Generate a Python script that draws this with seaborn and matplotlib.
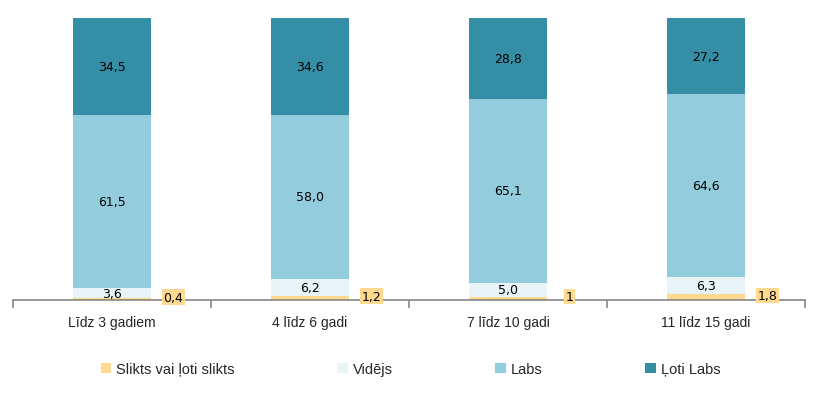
import matplotlib
matplotlib.use("Agg")
import matplotlib.pyplot as plt
import numpy as np
import seaborn as sns

categories = ["Līdz 3 gadiem", "4 līdz 6 gadi", "7 līdz 10 gadi", "11 līdz 15 gadi"]
series_names = ["Slikts vai ļoti slikts", "Vidējs", "Labs", "Ļoti Labs"]
slikts = [0.4, 1.2, 1.0, 1.8]
videjs = [3.6, 6.2, 5.0, 6.3]
labs = [61.5, 58.0, 65.1, 64.6]
loti_labs = [34.5, 34.6, 28.8, 27.2]
slikts_labels = ["0,4", "1,2", "1", "1,8"]

colors = ["#FFD98F", "#E8F4F8", "#93CDDD", "#348FA6"]

sns.set_style("white")
plt.rcParams["font.family"] = ["DejaVu Sans"]

fig = plt.figure(figsize=(8.21, 4.06), dpi=100)
ax = fig.add_axes([13 / 821, 1 - 300.5 / 406, 792 / 821, 282 / 406])

bottom = np.zeros(len(categories))
for name, vals, col in zip(series_names, [slikts, videjs, labs, loti_labs], colors):
    sns.barplot(x=categories, y=vals, bottom=bottom, color=col, width=0.394,
                saturation=1, errorbar=None, label=name, ax=ax, linewidth=0)
    if name != series_names[0]:
        for i, v in enumerate(vals):
            ax.text(i, bottom[i] + v / 2, f"{v:.1f}".replace(".", ","),
                    ha="center", va="center", fontsize=9, color="black")
    bottom = bottom + np.array(vals)

# yellow labels beside the bars
for i, v in enumerate(slikts):
    ax.text(i + 0.31, v / 2 + 0.6, slikts_labels[i], ha="center", va="center",
            fontsize=9, color="black",
            bbox=dict(boxstyle="square,pad=0.1", facecolor=colors[0], edgecolor="none"))

ax.set_xlim(-0.5, 3.5)
ax.set_ylim(0, 100)
ax.set_yticks([])
ax.set_xlabel("")
ax.set_ylabel("")
for s in ["left", "right", "top"]:
    ax.spines[s].set_visible(False)
ax.spines["bottom"].set_color("#868686")
ax.spines["bottom"].set_linewidth(1.2)

ax.set_xticks(range(len(categories)))
ax.set_xticklabels(categories, family="Liberation Sans", fontsize=10)
ax.set_xticks(np.arange(-0.5, 4, 1), minor=True)
ax.tick_params(axis="x", which="major", bottom=False, length=0, pad=11)
ax.tick_params(axis="x", which="minor", bottom=True, length=6, color="#868686", width=1.2)

ax.legend(loc="center", bbox_to_anchor=(0.5, 1 - 370 / 406), bbox_transform=fig.transFigure,
          ncol=4, frameon=False, handlelength=0.7, handleheight=0.7,
          handletextpad=0.35, columnspacing=7.05,
          prop={"family": "Liberation Sans", "size": 10.5})

fig.savefig("out.png", dpi=100)
